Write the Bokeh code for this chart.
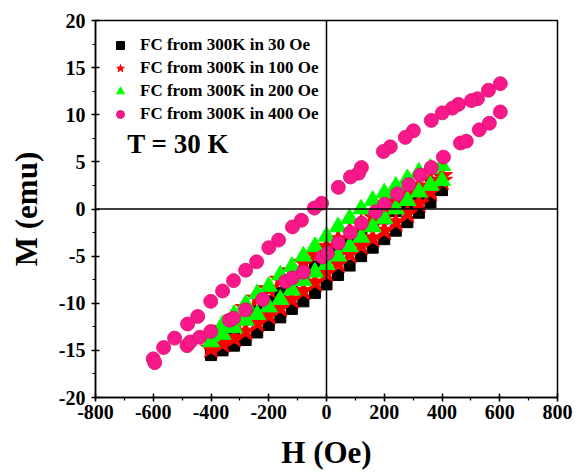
from bokeh.plotting import figure
from bokeh.models import Span, Label, Legend, LegendItem, FixedTicker
from bokeh.embed import file_html
from bokeh.resources import INLINE

# ---- data ----
H_down_400 = [400, 360, 320, 280, 240, 200, 160, 120, 80, 40, 0, -40, -80, -120, -160, -200, -240, -280, -320, -360, -400]
H_up_400 = [-400, -360, -320, -280, -240, -200, -160, -120, -80, -40, 0, 40, 80, 120, 160, 200, 240, 280, 320, 360, 400]

M30_down = [2.5, 1.9, 1.3, 0.6, -0.2, -1.0, -1.8, -2.6, -3.4, -4.3, -5.2, -6.1, -7.0, -7.9, -8.9, -9.8, -10.8, -11.7, -12.7, -13.8, -15.0]
M30_up = [-15.5, -15.0, -14.5, -13.9, -13.1, -12.3, -11.5, -10.6, -9.8, -8.9, -8.0, -7.0, -6.0, -5.0, -4.1, -3.2, -2.3, -1.4, -0.4, 0.7, 2.0]

M100_down = [3.5, 3.0, 2.4, 1.6, 0.8, 0.0, -0.8, -1.6, -2.4, -3.2, -4.0, -4.9, -5.7, -6.6, -7.5, -8.5, -9.5, -10.5, -11.6, -12.7, -14.0]
M100_up = [-14.8, -14.3, -13.7, -13.0, -12.1, -11.3, -10.5, -9.6, -8.7, -7.8, -6.8, -5.8, -4.8, -3.9, -3.1, -2.3, -1.4, -0.5, 0.6, 1.8, 3.0]

M200_down = [4.6, 4.3, 3.9, 3.2, 2.4, 1.7, 0.9, 0.0, -1.0, -1.9, -2.9, -4.0, -5.0, -6.1, -7.0, -8.2, -9.0, -10.1, -11.2, -12.3, -13.5]
M200_up = [-14.1, -13.3, -12.6, -11.8, -11.2, -10.4, -9.6, -8.6, -7.6, -6.7, -5.9, -5.0, -4.0, -3.0, -1.9, -1.0, 0.0, 0.9, 1.8, 2.5, 3.0]

H400_down = [602, 561, 523, 502, 457, 436, 401, 363, 301, 273, 221, 197, 121, 111, 83, 41, -17, -42, -87, -118, -166, -200, -242, -280, -322, -360, -401, -446, -481, -526, -564, -600]
M400_down = [13.3, 12.6, 11.7, 11.5, 11.1, 10.7, 10.2, 9.4, 8.3, 7.6, 6.6, 6.1, 4.4, 3.8, 3.4, 2.3, 0.6, 0.1, -1.2, -1.9, -3.3, -4.1, -5.6, -6.5, -7.6, -8.7, -9.8, -11.4, -12.2, -13.7, -14.7, -15.9]
H400_up = [-595, -483, -472, -439, -401, -336, -322, -280, -221, -142, -118, -80, -14, 3, 41, 83, 121, 170, 201, 245, 285, 325, 363, 405, 464, 484, 529, 564, 602]
M400_up = [-16.3, -14.5, -14.1, -13.6, -13.0, -11.8, -11.6, -10.7, -9.6, -7.7, -7.3, -6.7, -5.1, -4.7, -3.6, -2.5, -1.5, -0.3, 0.5, 1.6, 2.6, 3.6, 4.4, 5.5, 7.0, 7.2, 8.4, 9.1, 10.3]

x_ticks = [-800, -600, -400, -200, 0, 200, 400, 600, 800]
y_ticks = [-20, -15, -10, -5, 0, 5, 10, 15, 20]

labels = ["FC from 300K in 30 Oe", "FC from 300K in 100 Oe",
          "FC from 300K in 200 Oe", "FC from 300K in 400 Oe"]

FONT = "Liberation Serif"

p = figure(width=573, height=472, x_range=(-800, 800), y_range=(-20, 20),
           output_backend="svg", toolbar_location=None,
           min_border_left=95, min_border_right=16, min_border_top=20, min_border_bottom=74)
p.grid.visible = False
p.outline_line_color = "black"
p.outline_line_width = 1.5

p.axis.axis_line_width = 1.5
p.axis.major_tick_line_width = 1.5
p.axis.minor_tick_line_width = 1.2
p.axis.major_tick_in = 4
p.axis.major_tick_out = 4
p.axis.minor_tick_in = 0
p.axis.minor_tick_out = 3
p.axis.major_label_text_font = FONT
p.axis.major_label_text_font_style = "bold"
p.axis.major_label_text_font_size = "20px"
p.axis.major_label_text_color = "black"
p.axis.axis_label_text_font = FONT
p.axis.axis_label_text_font_style = "bold"
p.axis.axis_label_text_font_size = "31px"
p.axis.axis_label_text_color = "black"

p.xaxis.ticker = FixedTicker(ticks=x_ticks, minor_ticks=list(range(-800, 801, 100)))
p.yaxis.ticker = FixedTicker(ticks=y_ticks, minor_ticks=[v / 2 for v in range(-40, 41, 5)])
p.xaxis.major_label_overrides = {t: str(t) for t in x_ticks}
p.yaxis.major_label_overrides = {t: str(t) for t in y_ticks}
p.xaxis.axis_label = "H (Oe)"
p.yaxis.axis_label = "M (emu)"
p.xaxis.major_label_standoff = 3
p.yaxis.major_label_standoff = 6
p.xaxis.axis_label_standoff = 13
p.yaxis.axis_label_standoff = 12

p.add_layout(Span(location=0, dimension="width", line_color="black", line_width=1.5))
p.add_layout(Span(location=0, dimension="height", line_color="black", line_width=1.5))

r1 = p.scatter(H_down_400 + H_up_400, M30_down + M30_up, marker="square", size=11,
               fill_color="black", line_color="black")
r2 = p.scatter(H_down_400 + H_up_400, M100_down + M100_up, marker="star", size=22,
               fill_color="#ff0000", line_color="#ff0000")
r3 = p.scatter(H_down_400 + H_up_400, M200_down + M200_up, marker="triangle", size=17,
               fill_color="#00ff00", line_color="#00ff00")
r4 = p.scatter(H400_down + H400_up, M400_down + M400_up, marker="circle", size=14,
               fill_color="#f8188a", line_color="#d90f70", line_width=0.8)

legend = Legend(items=[LegendItem(label=labels[0], renderers=[r1]),
                       LegendItem(label=labels[1], renderers=[r2]),
                       LegendItem(label=labels[2], renderers=[r3]),
                       LegendItem(label=labels[3], renderers=[r4])],
                location="top_left", margin=10, padding=5, spacing=3,
                glyph_width=20, glyph_height=20, label_standoff=10,
                label_text_font=FONT, label_text_font_style="bold",
                label_text_font_size="17px", label_text_color="black",
                border_line_alpha=0, background_fill_alpha=0)
p.add_layout(legend)

p.add_layout(Label(x=-690, y=5.3, text="T = 30 K", text_font=FONT,
                   text_font_style="bold", text_font_size="27px", text_color="black"))

open("out.html", "w").write(file_html(p, INLINE))
